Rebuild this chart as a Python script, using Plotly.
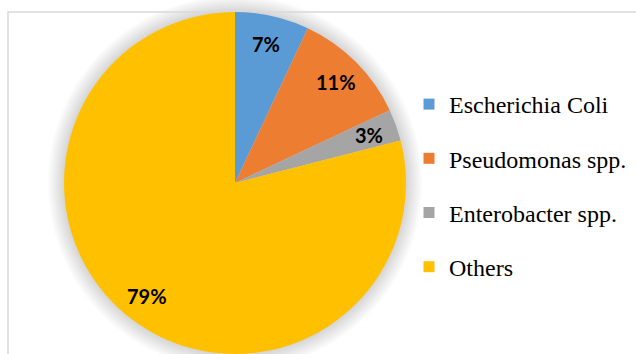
import math
import plotly.graph_objects as go

# ---- data ----
labels = ["Escherichia Coli", "Pseudomonas spp.", "Enterobacter spp.", "Others"]
values = [7, 11, 3, 79]
colors = ["#5B9BD5", "#ED7D31", "#A5A5A5", "#FFC000"]

# ---- layout constants (pixels) ----
W, H = 636, 354
CX, TOP, R = 235, 12, 171
CY = TOP + R
LABEL_R = 0.835

def px_x(v):
    return v / W

def px_y(v):
    return 1 - v / H

fig = go.Figure()

fig.add_trace(go.Pie(
    labels=labels, values=values, sort=False, direction="clockwise", rotation=0,
    marker=dict(colors=colors, line=dict(width=0)),
    textinfo="none", hoverinfo="label+percent", showlegend=False,
    domain=dict(x=[px_x(CX - R), px_x(CX + R)], y=[px_y(TOP + 2 * R), px_y(TOP)]),
))

# legend entries
for lab, col in zip(labels, colors):
    fig.add_trace(go.Scatter(
        x=[None], y=[None], mode="markers", name=lab, legendgroup=lab,
        marker=dict(symbol="square", size=11, color=col),
    ))

# percentage labels along slice bisectors
total = sum(values)
cum = 0
annotations = []
for v in values:
    mid = (cum + v / 2) / total
    cum += v
    th = 2 * math.pi * mid
    x = CX + LABEL_R * R * math.sin(th)
    y = CY - LABEL_R * R * math.cos(th)
    annotations.append(dict(
        x=px_x(x), y=px_y(y), xref="paper", yref="paper", showarrow=False,
        text="<b>%d%%</b>" % round(100 * v / total),
        font=dict(family="Lato", size=20, color="black"),
        xanchor="center", yanchor="middle",
    ))

shapes = []
# soft shadow behind pie
for k in range(1, 9):
    shapes.append(dict(
        type="circle", xref="paper", yref="paper", layer="below",
        x0=px_x(CX - R - 2 * k), x1=px_x(CX + R + 2 * k),
        y0=px_y(CY + R + 2 * k), y1=px_y(CY - R - 2 * k),
        fillcolor="rgba(0,0,0,0.02)", line=dict(width=0),
    ))
# chart border
shapes.append(dict(
    type="rect", xref="paper", yref="paper", layer="below",
    x0=px_x(8), x1=1.2, y0=-0.2, y1=px_y(12),
    line=dict(color="#d9d9d9", width=1.5), fillcolor="rgba(0,0,0,0)",
))

fig.update_layout(
    width=W, height=H, margin=dict(l=0, r=0, t=0, b=0),
    paper_bgcolor="white", plot_bgcolor="white",
    xaxis=dict(visible=False), yaxis=dict(visible=False),
    annotations=annotations, shapes=shapes,
    legend=dict(
        x=px_x(409), y=px_y(82), xanchor="left", yanchor="top",
        font=dict(family="Liberation Serif, Times New Roman, serif", size=24, color="black"),
        tracegroupgap=20, bgcolor="rgba(0,0,0,0)",
    ),
)

fig.write_html("out.html")
